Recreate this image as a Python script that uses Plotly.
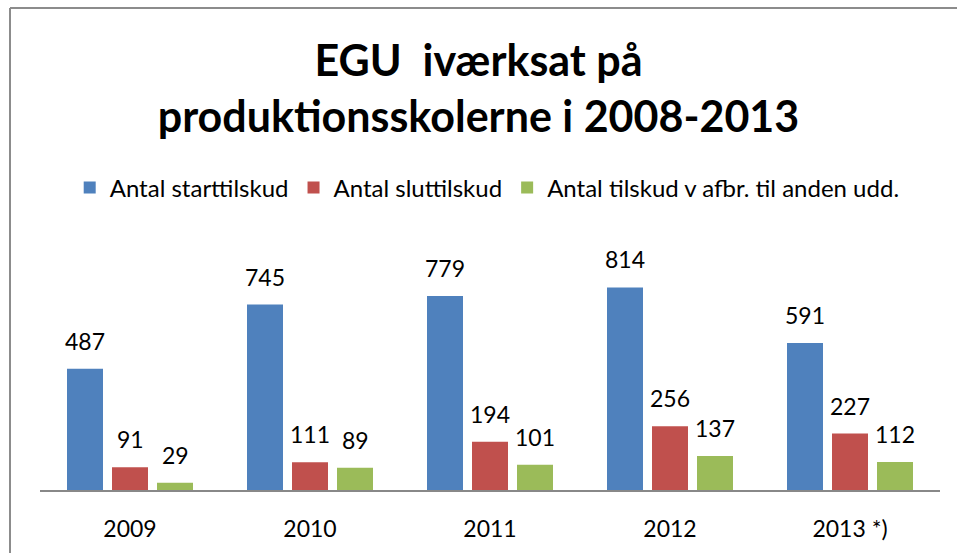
import plotly.graph_objects as go

years = ["2009", "2010", "2011", "2012", "2013 *)"]
series_names = ["Antal starttilskud", "Antal sluttilskud", "Antal tilskud v afbr. til anden udd."]
start_vals = [487, 745, 779, 814, 591]
slut_vals = [91, 111, 194, 256, 227]
afbr_vals = [29, 89, 101, 137, 112]
colors = ["#4F81BD", "#C0504D", "#9BBB59"]

FONT = "Lato"
fig = go.Figure()
all_vals = [start_vals, slut_vals, afbr_vals]
for name, vals, col in zip(series_names, all_vals, colors):
    fig.add_trace(go.Bar(x=years, y=vals, name=name, marker=dict(color=col, line=dict(width=0))))

offsets = [-0.25, 0.0, 0.25]
for vals, off in zip(all_vals, offsets):
    for i, v in enumerate(vals):
        fig.add_annotation(x=i + off, y=v, xref="x", yref="y", text=str(v), showarrow=False,
                           yanchor="bottom", yshift=12, font=dict(family=FONT, size=23, color="#000"))

fig.update_layout(
    width=957, height=553,
    margin=dict(l=40, r=17, t=266, b=63, autoexpand=False),
    paper_bgcolor="white", plot_bgcolor="white",
    barmode="group", bargap=0.25, bargroupgap=0.2,
    title=dict(text="<b>EGU  iværksat på<br>produktionsskolerne i 2008-2013</b>",
               x=0.5, xanchor="center", y=0.862, yanchor="top", yref="container",
               font=dict(family=FONT, size=43, color="#000")),
    legend=dict(orientation="h", x=0.033, y=(490 - 188) / 224, xanchor="left", yanchor="middle",
                font=dict(family=FONT, size=24, color="#000"), itemwidth=30),
    showlegend=True,
    xaxis=dict(showline=True, linecolor="#888888", linewidth=2, ticks="", showgrid=False,
               automargin=False,
               tickfont=dict(family=FONT, size=23, color="#000"), ticklabelstandoff=17),
    yaxis=dict(range=[0, 900], visible=False, showgrid=False, zeroline=False, automargin=False),
    shapes=[
        dict(type="line", xref="paper", yref="paper", x0=(10 - 40) / 900, x1=(957 - 40) / 900,
             y0=(490 - 8) / 224, y1=(490 - 8) / 224, line=dict(color="#8C8C8C", width=2)),
        dict(type="line", xref="paper", yref="paper", x0=(10 - 40) / 900, x1=(10 - 40) / 900,
             y0=(490 - 8) / 224, y1=(490 - 560) / 224, line=dict(color="#8C8C8C", width=2)),
    ],
)
fig.write_html("out.html")
